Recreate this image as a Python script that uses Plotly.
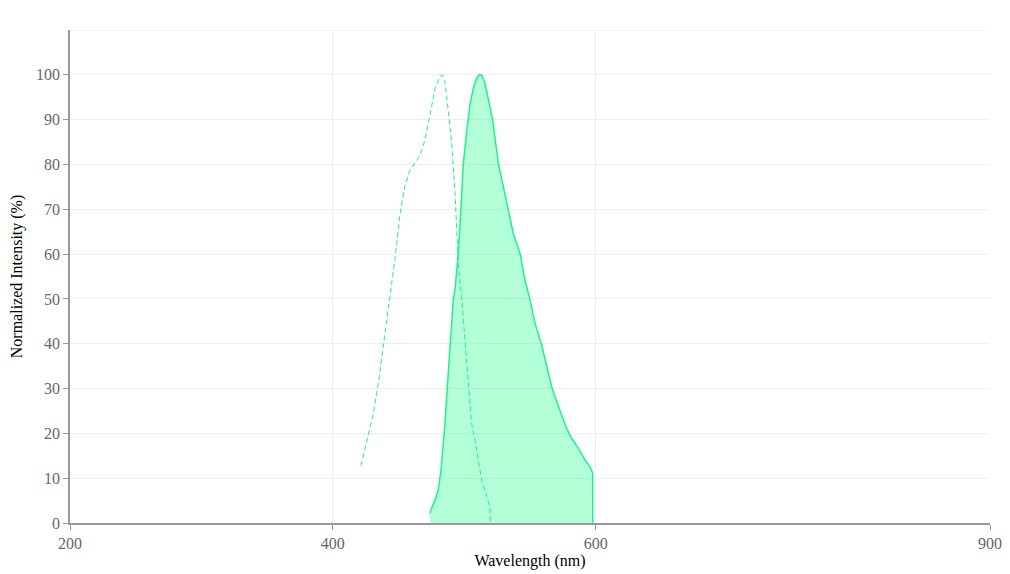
import plotly.graph_objects as go

# Excitation spectrum (dashed)
ex_nm = [421.4, 427.0, 430.8, 434.6, 438.4, 442.2, 444.2, 447.3, 451.0, 454.9,
         458.7, 462.5, 466.3, 470.1, 473.9, 477.7, 481.5, 483.3, 485.3, 487.8,
         490.4, 492.9, 494.2, 495.5, 498.0, 500.5, 503.0, 505.6, 509.4, 513.2,
         517.0, 519.6, 519.8]
ex_val = [12.7, 20.0, 24.5, 31.2, 39.3, 47.5, 51.2, 59.0, 68.7, 75.4,
          78.8, 80.3, 82.1, 85.5, 91.0, 97.0, 99.6, 100.0, 98.5, 92.5,
          85.0, 73.9, 63.5, 57.6, 50.1, 40.8, 31.2, 22.2, 16.3, 9.6,
          5.9, 3.6, 0.3]

# Emission spectrum (filled)
em_nm = [473.9, 474.6, 477.7, 480.2, 482.3, 484.0, 485.3, 486.6, 487.8, 489.1,
         490.4, 491.6, 492.9, 495.5, 497.5, 499.2, 501.8, 504.3, 506.9, 509.4,
         511.2, 513.2, 515.8, 518.3, 521.6, 525.9, 529.7, 533.5, 537.3, 542.4,
         546.2, 550.0, 553.8, 558.9, 562.7, 566.5, 570.3, 574.1, 577.9, 581.7,
         586.7, 591.8, 595.6, 597.7, 597.8]
em_val = [2.2, 2.9, 5.1, 7.4, 11.8, 17.0, 22.2, 28.2, 33.4, 38.6,
          44.6, 49.8, 52.0, 60.5, 70.2, 79.9, 87.3, 93.3, 97.0, 99.2,
          100.0, 100.0, 98.1, 94.8, 89.9, 80.3, 75.0, 69.8, 64.6, 60.2,
          54.2, 49.8, 44.6, 39.7, 34.9, 30.4, 27.1, 24.1, 21.1, 18.9,
          16.7, 14.1, 12.6, 11.1, 0.0]

x_ticks = [200, 400, 600, 900]
y_ticks = list(range(0, 101, 10))

line_color = "#1ef28a"
fill_color = "rgba(0,255,125,0.3)"
font = "Liberation Serif, Times New Roman, serif"

fig = go.Figure()

fig.add_trace(go.Scatter(
    x=em_nm, y=em_val, mode="lines", fill="tozeroy",
    fillcolor=fill_color, line=dict(color=line_color, width=1.5),
    name="Emission", hoverinfo="x+y"
))
fig.add_trace(go.Scatter(
    x=ex_nm, y=ex_val, mode="lines",
    line=dict(color=line_color, width=1, dash="5px,3px"),
    name="Excitation", hoverinfo="x+y"
))

# faint top border like a gridline at 110
fig.add_shape(type="line", xref="paper", yref="y", x0=0, x1=1, y0=110, y1=110,
              line=dict(color="#eeeeee", width=1), layer="below")

fig.update_layout(
    width=1010, height=574,
    margin=dict(l=62, r=28, t=22, b=59),
    paper_bgcolor="white", plot_bgcolor="white",
    showlegend=False,
    font=dict(family=font, size=16, color="#000"),
)
fig.update_xaxes(
    range=[200, 900], tickvals=x_ticks, automargin=False,
    title=dict(text="Wavelength (nm)", font=dict(family=font, size=16, color="#000"), standoff=2),
    showline=True, linecolor="#999", linewidth=1.5,
    ticks="outside", ticklen=5, tickcolor="#999",
    tickfont=dict(family=font, size=16, color="#666"),
    showgrid=True, gridcolor="#eeeeee", zeroline=False,
)
fig.update_yaxes(
    range=[0, 110], tickvals=y_ticks, automargin=False,
    title=dict(text="Normalized Intensity (%)", font=dict(family=font, size=16, color="#000"), standoff=10),
    showline=True, linecolor="#999", linewidth=1.5,
    ticks="outside", ticklen=5, tickcolor="#999",
    tickfont=dict(family=font, size=16, color="#666"),
    showgrid=True, gridcolor="#eeeeee", zeroline=False,
)

fig.write_html("out.html")
